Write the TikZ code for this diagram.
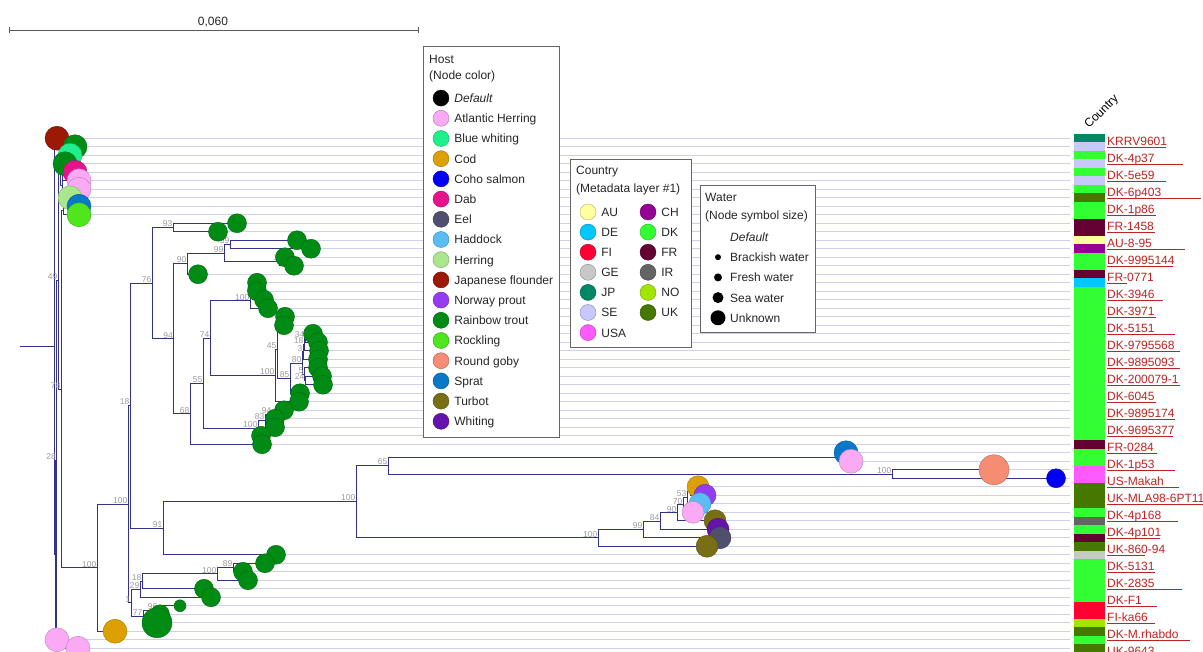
\documentclass[tikz,border=0pt]{standalone}
\usepackage{fontspec}
\setmainfont{Liberation Sans}
\usepackage{tikz}
\usetikzlibrary{positioning}
% tree and host colours
\definecolor{treeblue}{RGB}{50,50,140}
\definecolor{leafgray}{RGB}{208,208,232}
\definecolor{bootgray}{RGB}{155,155,155}
\definecolor{tipred}{RGB}{190,35,35}
\definecolor{jflounder}{RGB}{155,25,5}
\definecolor{rtrout}{RGB}{0,140,20}
\definecolor{bwhiting}{RGB}{30,240,140}
\definecolor{dab}{RGB}{230,20,140}
\definecolor{aherring}{RGB}{250,170,245}
\definecolor{herring}{RGB}{170,230,140}
\definecolor{sprat}{RGB}{10,120,200}
\definecolor{rockling}{RGB}{80,230,30}
\definecolor{rgoby}{RGB}{245,140,115}
\definecolor{coho}{RGB}{0,0,245}
\definecolor{cod}{RGB}{220,160,0}
\definecolor{nprout}{RGB}{150,60,240}
\definecolor{haddock}{RGB}{90,190,245}
\definecolor{turbot}{RGB}{120,110,20}
\definecolor{whiting}{RGB}{100,20,170}
\definecolor{eel}{RGB}{80,80,110}
% country colours
\definecolor{cau}{RGB}{255,255,160}
\definecolor{cch}{RGB}{150,0,150}
\definecolor{cde}{RGB}{0,200,250}
\definecolor{cdk}{RGB}{50,255,50}
\definecolor{cfi}{RGB}{255,0,50}
\definecolor{cfr}{RGB}{100,0,50}
\definecolor{cge}{RGB}{200,200,200}
\definecolor{cir}{RGB}{100,100,100}
\definecolor{cjp}{RGB}{0,135,100}
\definecolor{cno}{RGB}{160,230,0}
\definecolor{cse}{RGB}{200,200,250}
\definecolor{cuk}{RGB}{70,120,0}
\definecolor{cusa}{RGB}{255,90,255}

\begin{document}
\begin{tikzpicture}[x=1pt, y=-1pt,
  branch/.style={draw=treeblue, line width=0.9pt},
  leafline/.style={draw=leafgray, line width=1pt},
  boot/.style={font=\fontsize{8.5}{9}\selectfont\color{bootgray}, anchor=south east, inner sep=0.5pt},
  leafdot/.style={circle, inner sep=0pt, fill=#1, draw=#1!75!black, line width=0.4pt},
  tiplabel/.style={font=\fontsize{12}{14}\selectfont\color{tipred}, anchor=base west, inner sep=0pt},
  tipline/.style={draw=tipred, line width=0.8pt},
  legbox/.style={draw=black!60, fill=white, line width=0.9pt},
  legtitle/.style={font=\fontsize{12}{14}\selectfont\color{black!85}, anchor=west, inner sep=0pt},
  legtext/.style={font=\fontsize{12}{14}\selectfont\color{black!85}, inner sep=0pt, text height=9pt, text depth=0pt},
  legdot/.style={circle, inner sep=0pt, minimum size=16pt, fill=#1, draw=#1!70!black, line width=0.4pt},
  waterdot/.style={circle, inner sep=0pt, fill=black}
]
\fill[white] (0,0) rectangle (1203,652);
\useasboundingbox (0,0) rectangle (1203,652);

% Leaves: row/x/host/radius
\def\leaflist{0/57/jflounder/12, 1/75/rtrout/12, 2/70/bwhiting/12, 3/65/rtrout/12,
  4/75/dab/12, 5/79/aherring/12, 6/79/aherring/12, 7/70/herring/12, 8/79/sprat/12,
  9/79/rockling/12, 10/237/rtrout/9.5, 11/218/rtrout/9.5, 12/297/rtrout/9.5,
  13/311/rtrout/9.5, 14/285/rtrout/9.5, 15/294/rtrout/9.5, 16/198/rtrout/9.5,
  17/257/rtrout/9.5, 18/257/rtrout/9.5, 19/264/rtrout/9.5, 20/268/rtrout/9.5,
  21/285/rtrout/9.5, 22/284/rtrout/9.5, 23/313/rtrout/9.5, 24/318/rtrout/9.5,
  25/319/rtrout/9.5, 26/318/rtrout/9.5, 27/318/rtrout/9.5, 28/322/rtrout/9.5,
  29/323/rtrout/9.5, 30/300/rtrout/9.5, 31/299/rtrout/9.5, 32/284/rtrout/9.5,
  33/275/rtrout/9.5, 34/275/rtrout/9.5, 35/261/rtrout/9.5, 36/262/rtrout/9.5,
  37/846/sprat/12, 38/851/aherring/12, 39/994/rgoby/15, 40/1056/coho/9.5,
  41/698/cod/11, 42/705/nprout/11, 43/700/haddock/11, 44/693/aherring/11,
  45/715/turbot/11, 46/718/whiting/11, 47/720/eel/11, 48/707/turbot/11,
  49/276/rtrout/9.5, 50/265/rtrout/9.5, 51/243/rtrout/9.5, 52/248/rtrout/9.5,
  53/204/rtrout/9.5, 54/211/rtrout/9.5, 55/180/rtrout/6, 56/160/rtrout/9.5,
  57/157/rtrout/15, 58/115/cod/12, 59/57/aherring/12, 60/78/aherring/12}
\foreach \k/\x/\h/\r in \leaflist {
  \coordinate (l\k) at (\x, 138.25+8.5*\k);
}
\coordinate (tipend) at (1070,0);

% Internal nodes
\foreach \n/\x/\y in {nroot/54/346.2, nq/55/554.2, n28/56.5/460.2, n49/58/280.6,
  na/60/171.2, na1/62/157.4, na1a/64/151, na2/62/185, n78/61/389.4, nb/63/210.5,
  n100g/97/567.8, n100f/128/504.3, n18/130/405.6, n76/152/283.1, n93/173/227.5,
  n94/173.5/338.8, n90/187/263.6, n99/224/253, n59/230/244.5, n1b/279/261.5,
  n68/190/413.9, n55/203/383.5, n74/210/338.2, n100a/250/300.8, n6/252/293.4,
  n5a/254/287, n100b/275/375.6, n45/277/349.5, n5c/279/321, n85/290/378,
  n80/302/363, n3x/303/351.8, n18c/304/344.4, n34/305/338, n5b/304/374,
  n24/305/380.5, n100h/258/428, n83/265/420.5, n94b/272/414.5, n91/163/528.2,
  n100c/356/501.7, n65/388/465.5, nsp/840/457, n100i/892/474, n100d/598/537.8,
  n99b/643/529.4, n84/660/521, n90b/677/512.8, n70/683/504.8, n53/687/497.4,
  nx/690/491, n1x/131/602.9, n29/140/589.3, n18b/142/581.4, n100e/217/573.9,
  n89/233/567.5, n77/143/616.4, n96/158/610} {
  \coordinate (\n) at (\x,\y);
}
\coordinate (rootin) at (20,346.2);

% Leaf lines
\foreach \k in {0,...,60} {
  \draw[leafline] (l\k) -- (l\k -| tipend);
}

% Branches
\draw[branch] (rootin) -- (nroot);
\foreach \p/\c in {nroot/l0, nroot/nq, nq/n28, nq/l60, n28/n49, n28/l59,
  n49/na, n49/n78, na/na1, na/na2, na1/na1a, na1/l3, na1a/l1, na1a/l2,
  na2/l4, na2/l5, na2/l6, na2/l7, n78/nb, n78/n100g, nb/l8, nb/l9,
  n100g/n100f, n100g/l58, n100f/n18, n100f/n1x, n18/n76, n18/n91,
  n76/n93, n76/n94, n93/l10, n93/l11, n94/n90, n94/n68, n90/n99, n90/l16,
  n99/n59, n99/n1b, n59/l12, n59/l13, n1b/l14, n1b/l15, n68/n55, n68/l36,
  n55/n74, n55/n100h, n74/n100a, n74/n100b, n100a/n6, n100a/l20,
  n6/n5a, n6/l19, n5a/l17, n5a/l18, n100b/n45, n100b/l31, n45/n5c, n45/n85,
  n5c/l21, n5c/l22, n85/n80, n85/l30, n80/n3x, n80/n5b, n3x/n18c, n3x/l26,
  n18c/n34, n18c/l25, n34/l23, n34/l24, n5b/l27, n5b/n24, n24/l28, n24/l29,
  n100h/n83, n100h/l35, n83/n94b, n83/l34, n94b/l32, n94b/l33,
  n91/n100c, n91/l49, n100c/n65, n100c/n100d, n65/nsp, n65/n100i,
  nsp/l37, nsp/l38, n100i/l39, n100i/l40, n100d/n99b, n100d/l48,
  n99b/n84, n99b/l47, n84/n90b, n84/l46, n90b/n70, n90b/l45, n70/n53, n70/l44,
  n53/nx, n53/l43, nx/l41, nx/l42, n1x/n29, n1x/n77, n29/n18b, n29/l54,
  n18b/n100e, n18b/l53, n100e/n89, n100e/l52, n89/l50, n89/l51,
  n77/n96, n77/l57, n96/l55, n96/l56} {
  \draw[branch] (\p) |- (\c);
}

% Bootstrap values
\foreach \n/\t in {n49/49, n78/78, n28/28, n100g/100, n100f/100, n18/18, n76/76,
  n93/93, n94/94, n90/90, n99/99, n59/59, n1b/1, n5a/5, n6/6, n100a/100, n74/74,
  n45/45, n100b/100, n85/85, n34/34, n18c/18, n3x/3, n80/80, n5b/5, n24/24,
  n55/55, n68/68, n94b/94, n83/83, n100h/100, n91/91, n100c/100, n65/65,
  n100i/100, n100d/100, n99b/99, n84/84, n90b/90, n70/70, n53/53, n89/89,
  n100e/100, n18b/18, n29/29, n1x/1, n77/77, n96/96} {
  \node[boot] at (\n) {\t};
}

% Host circles
\foreach \k/\x/\h/\r in \leaflist {
  \node[leafdot=\h, minimum size={2*\r pt}] (c\k) at (l\k) {};
}

% Country strip
\foreach \k/\c in {0/cjp, 1/cse, 2/cdk, 3/cse, 4/cdk, 5/cse, 6/cdk, 7/cuk, 8/cdk,
  9/cdk, 10/cfr, 11/cfr, 12/cau, 13/cch, 14/cdk, 15/cdk, 16/cfr, 17/cde,
  18/cdk, 19/cdk, 20/cdk, 21/cdk, 22/cdk, 23/cdk, 24/cdk, 25/cdk, 26/cdk,
  27/cdk, 28/cdk, 29/cdk, 30/cdk, 31/cdk, 32/cdk, 33/cdk, 34/cdk, 35/cdk,
  36/cfr, 37/cdk, 38/cdk, 39/cusa, 40/cusa, 41/cuk, 42/cuk, 43/cuk, 44/cdk,
  45/cir, 46/cdk, 47/cfr, 48/cuk, 49/cge, 50/cdk, 51/cdk, 52/cdk, 53/cdk,
  54/cdk, 55/cfi, 56/cfi, 57/cno, 58/cuk, 59/cdk, 60/cuk} {
  \fill[fill=\c] (1074,134+8.5*\k) rectangle ++(31,8.5);
}
\node[font=\fontsize{12}{14}\selectfont, rotate=45, inner sep=0pt] (countryhead) at (1102,112) {Country};

% Tip labels
\foreach \k/\t/\u in {0/KRRV9601/1166, 2/DK-4p37/1183, 4/DK-5e59/1166,
  6/DK-6p403/1201, 8/DK-1p86/1156, 10/FR-1458/1155, 12/AU-8-95/1185,
  14/DK-9995144/1173, 16/FR-0771/1127, 18/DK-3946/1163, 20/DK-3971/1156,
  22/DK-5151/1175, 24/DK-9795568/1180, 26/DK-9895093/1180, 28/DK-200079-1/1180,
  30/DK-6045/1156, 32/DK-9895174/1175, 34/DK-9695377/1173, 36/FR-0284/1157,
  38/DK-1p53/1175, 40/US-Makah/1179, 42/UK-MLA98-6PT11/1203, 44/DK-4p168/1178,
  46/DK-4p101/1160, 48/UK-860-94/1145, 50/DK-5131/1155, 52/DK-2835/1182,
  54/DK-F1/1157, 56/FI-ka66/1155, 58/DK-M.rhabdo/1190, 60/UK-9643/1107} {
  \node[tiplabel] (tip\k) at (1107,145.5+8.5*\k) {\t};
  \draw[tipline] (1107,147.8+8.5*\k) -- (\u,147.8+8.5*\k);
}

% Host legend
\draw[legbox] (423,46) rectangle (559,437);
\node[legtitle] (hosttitle) at (429,59) {Host};
\node[legtitle] (hostsub) at (429,76) {(Node color)};
\foreach \c/\t [count=\i] in {black/\textit{Default}, aherring/Atlantic Herring,
  bwhiting/Blue whiting, cod/Cod, coho/Coho salmon, dab/Dab, eel/Eel,
  haddock/Haddock, herring/Herring, jflounder/Japanese flounder,
  nprout/Norway prout, rtrout/Rainbow trout, rockling/Rockling,
  rgoby/Round goby, sprat/Sprat, turbot/Turbot, whiting/Whiting} {
  \node[legdot=\c] (host\i) at (441,77.9+20.2*\i) {};
  \node[legtext, right=5pt of host\i] {\t};
}

% Country legend
\draw[legbox] (570,159) rectangle (691,347);
\node[legtitle] (ctitle) at (576,172) {Country};
\node[legtitle] (csub) at (576,189) {(Metadata layer \#1)};
\foreach \c/\t [count=\i] in {cau/AU, cde/DE, cfi/FI, cge/GE, cjp/JP, cse/SE, cusa/USA} {
  \node[legdot=\c] (cleft\i) at (588,191.9+20.1*\i) {};
  \node[legtext, right=5pt of cleft\i] {\t};
}
\foreach \c/\t [count=\i] in {cch/CH, cdk/DK, cfr/FR, cir/IR, cno/NO, cuk/UK} {
  \node[legdot=\c] (cright\i) at (648,191.9+20.1*\i) {};
  \node[legtext, right=5pt of cright\i] {\t};
}

% Water legend
\draw[legbox] (700,185) rectangle (815,332);
\node[legtitle] (wtitle) at (705,197) {Water};
\node[legtitle] (wsub) at (705,216) {(Node symbol size)};
\node[legtext, anchor=west] (wdefault) at (730,237) {\textit{Default}};
\foreach \r/\t [count=\i] in {3/Brackish water, 4/Fresh water, 5.5/Sea water, 7.5/Unknown} {
  \node[waterdot, minimum size={2*\r pt}] (water\i) at (718,237+20.2*\i) {};
  \node[legtext, anchor=west] at (730,237+20.2*\i) {\t};
}

% Scale bar
\coordinate (sbleft) at (9,30);
\coordinate (sbright) at (418,30);
\draw[black!65, line width=0.9pt] (sbleft) -- (sbright);
\draw[black!65, line width=0.9pt] (sbleft) ++(0,-3) -- ++(0,6);
\draw[black!65, line width=0.9pt] (sbright) ++(0,-3) -- ++(0,6);
\node[font=\fontsize{12}{14}\selectfont\color{black!85}] (sblabel) at (213,22) {0,060};
\end{tikzpicture}
\end{document}
